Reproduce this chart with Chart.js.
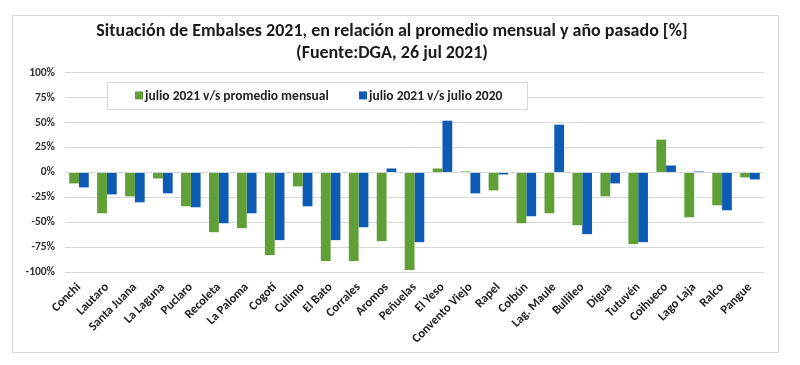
<!DOCTYPE html>
<html>
<head>
<meta charset="utf-8">
<script src="https://cdn.jsdelivr.net/npm/chart.js@4"></script>
<style>
  html, body { margin: 0; padding: 0; background: #fff; }
  #wrap { width: 800px; height: 365px; }
</style>
</head>
<body>
<div id="wrap"><canvas id="embalses" width="800" height="365"></canvas></div>
<script>
const embalses = ['Conchi', 'Lautaro', 'Santa Juana', 'La Laguna', 'Puclaro', 'Recoleta', 'La Paloma', 'Cogotí',
    'Culimo', 'El Bato', 'Corrales', 'Aromos', 'Peñuelas', 'El Yeso', 'Convento Viejo', 'Rapel', 'Colbún',
    'Lag. Maule', 'Bullileo', 'Digua', 'Tutuvén', 'Coihueco', 'Lago Laja', 'Ralco', 'Pangue'];
const vsPromedio = [-11, -41, -24, -6, -34, -60, -56, -83, -14, -89, -89, -69, -98, 4, 1, -18, -51, -41, -53, -24, -72, 33, -45, -33, -5];
const vsJulio2020 = [-15, -22, -30, -21, -35, -51, -41, -68, -34, -68, -55, 4, -70, 52, -21, -2, -44, 48, -62, -11, -70, 7, 1, -38, -7];
const yTicks = [-100, -75, -50, -25, 0, 25, 50, 75, 100];

const FONT = 'Carlito, "Liberation Sans Narrow", Lato, sans-serif';
const GREEN = '#60a036';
const BLUE = '#0e5bb5';

// frame round the whole chart
const framePlugin = {
    id: 'frame',
    beforeDraw(chart) {
        const c = chart.ctx;
        c.save();
        c.fillStyle = '#fff';
        c.fillRect(0, 0, chart.width, chart.height);
        c.strokeStyle = '#d9d9d9';
        c.lineWidth = 1;
        c.strokeRect(12.5, 15.5, 766, 337);
        c.restore();
    }
};

// legend drawn inside the plot, like the original
const insideLegend = {
    id: 'insideLegend',
    afterDraw(chart) {
        const c = chart.ctx;
        const area = chart.chartArea;
        const x0 = area.left + 42, y0 = area.top + 9, w = 420, h = 27;
        c.save();
        c.fillStyle = '#fff';
        c.fillRect(x0, y0, w, h);
        c.strokeStyle = '#d9d9d9';
        c.strokeRect(x0 + 0.5, y0 + 0.5, w, h);
        c.font = 'bold 13.5px ' + FONT;
        c.textBaseline = 'middle';
        const starts = [x0 + 28, x0 + 252];
        chart.data.datasets.forEach((ds, i) => {
            c.fillStyle = ds.backgroundColor;
            c.fillRect(starts[i], y0 + h / 2 - 4, 8, 8);
            c.fillStyle = '#222';
            c.fillText(ds.label, starts[i] + 10, y0 + h / 2 + 1);
        });
        c.restore();
    }
};

new Chart(document.getElementById('embalses').getContext('2d'), {
    type: 'bar',
    data: {
        labels: embalses,
        datasets: [
            { label: 'julio 2021 v/s promedio mensual', data: vsPromedio, backgroundColor: GREEN },
            { label: 'julio 2021 v/s julio 2020', data: vsJulio2020, backgroundColor: BLUE }
        ]
    },
    options: {
        responsive: false,
        animation: false,
        layout: { padding: { left: 20, right: 36, top: 0, bottom: 8 } },
        datasets: { bar: { barPercentage: 1, categoryPercentage: 0.7 } },
        plugins: {
            legend: { display: false },
            tooltip: { enabled: false },
            title: {
                display: true,
                text: ['Situación de Embalses 2021, en relación al promedio mensual y año pasado [%]', '(Fuente:DGA, 26 jul 2021)'],
                color: '#1a1a1a',
                font: { family: FONT, size: 18, weight: 'bold', lineHeight: 1.22 },
                padding: { top: 21, bottom: 8 }
            }
        },
        scales: {
            x: {
                grid: { display: false },
                border: { display: false },
                ticks: {
                    color: '#222',
                    font: { family: FONT, size: 12.5, weight: 'bold' },
                    minRotation: 45,
                    maxRotation: 45,
                    autoSkip: false,
                    padding: 0
                },
                afterFit(scale) { scale.height = 85; }
            },
            y: {
                min: -100,
                max: 100,
                afterBuildTicks(scale) { scale.ticks = yTicks.map(v => ({ value: v })); },
                grid: { color: '#d9d9d9', drawTicks: false },
                border: { display: false },
                ticks: {
                    color: '#333',
                    font: { family: FONT, size: 11.5, weight: 'bold' },
                    padding: 10,
                    callback: v => v + '%'
                },
                afterFit(scale) { scale.width = 45; }
            }
        }
    },
    plugins: [framePlugin, insideLegend]
});
</script>
</body>
</html>
